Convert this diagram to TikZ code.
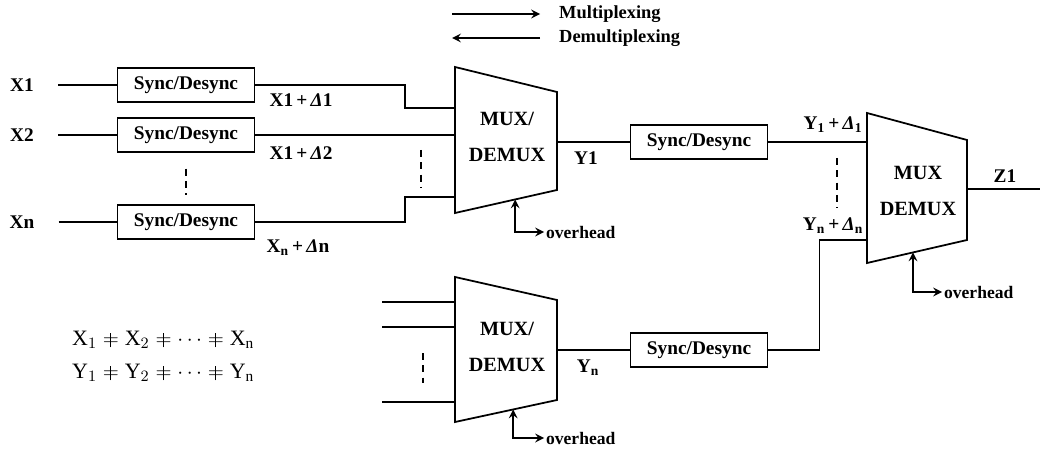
\documentclass[tikz,border=0pt]{standalone}
\usepackage{fontspec}
\setmainfont{Liberation Serif}
\usetikzlibrary{arrows, calc}

\newcommand{\neqbar}{\mathrel{\ooalign{$=$\cr\hidewidth\rule[-0.08em]{0.045em}{0.66em}\hidewidth\cr}}}

\begin{document}
\begin{tikzpicture}[x=0.02cm, y=-0.02cm, >=stealth, font=\bfseries\fontsize{11}{13}\selectfont]

% Define styles
\tikzstyle{syncbox} = [rectangle, draw, line width=1pt, minimum width=2.74cm, minimum height=0.68cm, inner sep=1pt]
\tikzstyle{line} = [line width=1pt]
\tikzstyle{arrow} = [line width=1.2pt, ->]
\tikzstyle{ohline} = [line width=1.2pt, <->]
\tikzstyle{dotline} = [line width=1pt, dash pattern=on 4pt off 3pt]
\tikzstyle{muxtext} = [align=center, font=\bfseries\fontsize{11.5}{20}\selectfont]
\tikzstyle{lbl} = [inner sep=1pt]
\tikzstyle{ohtext} = [anchor=west, inner sep=1pt, font=\bfseries\fontsize{10}{12}\selectfont]
\tikzstyle{legend} = [anchor=west, font=\bfseries\fontsize{10.5}{12}\selectfont]

\useasboundingbox (0,0) rectangle (1043,452);

% Legend
\coordinate (lg1a) at (452,14);
\coordinate (lg1b) at (540,14);
\coordinate (lg2a) at (452,38);
\coordinate (lg2b) at (540,38);
\draw [arrow] (lg1a) -- (lg1b);
\draw [arrow] (lg2b) -- (lg2a);
\node (lgmux) [legend] at (553,14) {Multiplexing};
\node (lgdemux) [legend] at (553,38) {Demultiplexing};

% MUX 1
\coordinate (m1tl) at (455,67);
\coordinate (m1tr) at (557,92);
\coordinate (m1br) at (557,190);
\coordinate (m1bl) at (455,213);
\draw [line] (m1tl) -- (m1tr) -- (m1br) -- (m1bl) -- cycle;
\node (mux1) [muxtext] at (507,137) {MUX/\\DEMUX};
\coordinate (m1a) at (455,108);
\coordinate (m1b) at (455,135);
\coordinate (m1c) at (455,197);
\coordinate (m1out) at (557,142);
\coordinate (m1oh) at ($(m1bl)!0.59!(m1br)$);

% MUX 2
\coordinate (m2tl) at (867,113);
\coordinate (m2tr) at (967,140);
\coordinate (m2br) at (967,240);
\coordinate (m2bl) at (867,263);
\draw [line] (m2tl) -- (m2tr) -- (m2br) -- (m2bl) -- cycle;
\node (mux2) [muxtext] at (918,191) {MUX\\DEMUX};
\coordinate (m2a) at (867,142);
\coordinate (m2b) at (867,240);
\coordinate (m2out) at (967,189);
\coordinate (m2oh) at ($(m2bl)!0.46!(m2br)$);
\coordinate (z1end) at (1040,189);

% MUX 3
\coordinate (m3tl) at (455,277);
\coordinate (m3tr) at (557,300);
\coordinate (m3br) at (557,400);
\coordinate (m3bl) at (455,422);
\draw [line] (m3tl) -- (m3tr) -- (m3br) -- (m3bl) -- cycle;
\node (mux3) [muxtext] at (507,347) {MUX/\\DEMUX};
\coordinate (m3a) at (455,302);
\coordinate (m3b) at (455,327);
\coordinate (m3c) at (455,402);
\coordinate (m3out) at (557,350);
\coordinate (m3oh) at ($(m3bl)!0.57!(m3br)$);
\coordinate (i1) at (382,302);
\coordinate (i2) at (382,327);
\coordinate (i3) at (382,402);

% Nodes
\node (x1) at (22,85) {X1};
\node (x2) at (22,135) {X2};
\node (xn) at (22,222) {Xn};
\node (s1) [syncbox] at (186,85) {Sync/Desync};
\node (s2) [syncbox] at (186,135) {Sync/Desync};
\node (s3) [syncbox] at (186,222) {Sync/Desync};
\node (s4) [syncbox] at (699,142) {Sync/Desync};
\node (s5) [syncbox] at (699,350) {Sync/Desync};

% Labels
\node (d1) [lbl] at (301,100) {X1\,+\,\textit{Δ}1};
\node (d2) [lbl] at (301,153) {X1\,+\,\textit{Δ}2};
\node (dn) [lbl] at (298,248) {X\textsubscript{n}\,+\,\textit{Δ}n};
\node (y1) [lbl] at (586,158) {Y1};
\node (yn) [lbl] at (588,368) {Y\textsubscript{n}};
\node (e1) [lbl] at (833,125) {Y\textsubscript{1}\,+\,\textit{Δ}\textsubscript{1}};
\node (en) [lbl] at (833,226) {Y\textsubscript{n}\,+\,\textit{Δ}\textsubscript{n}};
\node (z1) [lbl] at (1005,176) {Z1};
\node (oh1) [ohtext] at (544,232) {overhead};
\node (oh2) [ohtext] at (942,292) {overhead};
\node (oh3) [ohtext] at (544,438) {overhead};

% Equations
\node (eqx) [anchor=west, font=\fontsize{12.5}{14}\selectfont] at (66,340) {$\mathrm{X}_1 \neqbar \mathrm{X}_2 \neqbar \cdots \neqbar \mathrm{X}_\mathrm{n}$};
\node (eqy) [anchor=west, font=\fontsize{12.5}{14}\selectfont] at (66,373) {$\mathrm{Y}_1 \neqbar \mathrm{Y}_2 \neqbar \cdots \neqbar \mathrm{Y}_\mathrm{n}$};

% Connections
\draw [line] (x1.east) ++(18,0) -- (s1.west);
\draw [line] (x2.east) ++(18,0) -- (s2.west);
\draw [line] (xn.east) ++(18,0) -- (s3.west);
\draw [line] (s1.east) -- ++(150,0) |- (m1a);
\draw [line] (s2.east) -- (m1b);
\draw [line] (s3.east) -- ++(150,0) |- (m1c);
\draw [line] (m1out) -- (s4.west);
\draw [line] (s4.east) -- (m2a);
\draw [line] (s5.east) -- ++(51,0) |- (m2b);
\draw [line] (m2out) -- (z1end);
\draw [line] (m3out) -- (s5.west);
\draw [line] (i1) -- (m3a);
\draw [line] (i2) -- (m3b);
\draw [line] (i3) -- (m3c);

% Overhead
\draw [ohline] (m1oh) |- (oh1.west);
\draw [ohline] (m2oh) |- (oh2.west);
\draw [ohline] (m3oh) |- (oh3.west);

% Ellipsis
\draw [dotline, shorten <=9pt, shorten >=5pt] (s2.south) -- (s3.north);
\draw [dotline] ($(m1b)+(-34,15)$) -- ++(0,37);
\draw [dotline] ($(m2a)+(-30,16)$) -- ++(0,50);
\draw [dotline] ($(m3b)+(-32,26)$) -- ++(0,30);

\end{tikzpicture}
\end{document}
